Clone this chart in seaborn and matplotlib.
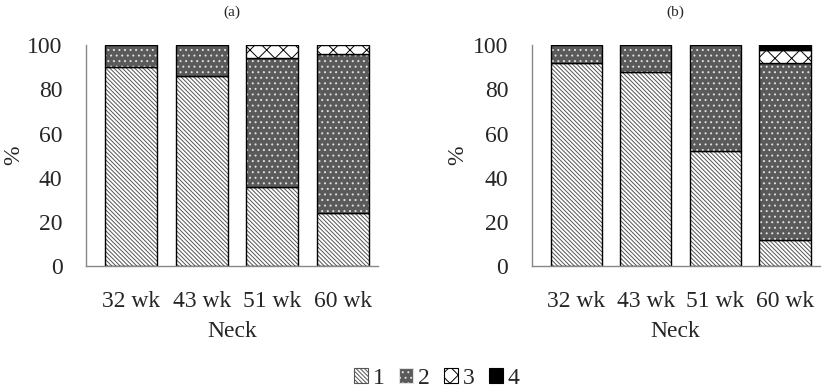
import matplotlib
matplotlib.use("Agg")
import matplotlib.pyplot as plt
import seaborn as sns
import numpy as np
import pandas as pd
from matplotlib.patches import Patch

sns.set_style("white")
plt.rcParams['font.family'] = ['Liberation Serif', 'DejaVu Serif']
plt.rcParams['hatch.linewidth'] = 0.7

weeks = ["32 wk", "43 wk", "51 wk", "60 wk"]
categories = ["1", "2", "3", "4"]
panel_a = {
    "1": [90, 86, 36, 24],
    "2": [10, 14, 58, 72],
    "3": [0, 0, 6, 4],
    "4": [0, 0, 0, 0],
}
panel_b = {
    "1": [92, 88, 52, 12],
    "2": [8, 12, 48, 80],
    "3": [0, 0, 0, 6],
    "4": [0, 0, 0, 2],
}
panel_titles = ["(a)", "(b)"]

styles = {
    "1": dict(face="white", hatch="\\" * 8, hc="#555555"),
    "2": dict(face="#5a5a5a", hatch="...", hc="#e0e0e0"),
    "3": dict(face="white", hatch="xx", hc="black"),
    "4": dict(face="black", hatch=None, hc="black"),
}

fig = plt.figure(figsize=(8.27, 3.92), dpi=100)
ax_a = fig.add_axes([0.104, 0.321, 0.353, 0.564])
ax_b = fig.add_axes([0.643, 0.321, 0.348, 0.564])

for ax, data, title, lx in zip([ax_a, ax_b], [panel_a, panel_b], panel_titles, [-0.21, -0.222]):
    bottom = np.zeros(len(weeks))
    for cat in categories:
        vals = np.array(data[cat], dtype=float)
        st = styles[cat]
        n_before = len(ax.patches)
        sns.barplot(x=weeks, y=vals, bottom=bottom, ax=ax, color=st["face"],
                    width=0.74, linewidth=0, saturation=1, errorbar=None)
        for p in ax.patches[n_before:]:
            p.set_facecolor(st["face"])
            p.set_edgecolor(st["hc"])
            p.set_linewidth(0)
            if st["hatch"]:
                p.set_hatch(st["hatch"])
        n_before = len(ax.patches)
        sns.barplot(x=weeks, y=vals, bottom=bottom, ax=ax, color="white",
                    width=0.74, linewidth=1.0, edgecolor="black", errorbar=None)
        for p in ax.patches[n_before:]:
            p.set_fill(False)
            p.set_edgecolor("black")
            p.set_linewidth(1.0)
            if p.get_height() == 0:
                p.set_visible(False)
        bottom = bottom + vals
    ax.set_ylim(0, 100)
    ax.set_xlim(-0.64, 3.5)
    ax.set_yticks([0, 20, 40, 60, 80, 100])
    ax.tick_params(axis='y', labelsize=17, length=0, pad=17)
    ax.tick_params(axis='x', labelsize=17, length=0, pad=18)
    ax.set_xlabel("Neck", fontsize=17, labelpad=6)
    ax.set_ylabel("%", fontsize=17)
    ax.yaxis.set_label_coords(lx, 0.5)
    ax.set_title(title, fontsize=11, pad=21)
    for s in ["top", "right"]:
        ax.spines[s].set_visible(False)
    ax.spines["left"].set_color("#888888")
    ax.spines["bottom"].set_color("#888888")
    ax.spines["left"].set_linewidth(1.0)
    ax.spines["bottom"].set_linewidth(1.0)

handles = []
for cat in categories:
    st = styles[cat]
    handles.append(Patch(facecolor=st["face"], edgecolor=st["hc"] if st["hatch"] else "black",
                         hatch=st["hatch"], linewidth=0.8, label=cat))
fig.legend(handles=handles, loc="center", bbox_to_anchor=(0.528, 0.035), ncol=4,
           frameon=False, fontsize=17, handlelength=0.6, handleheight=0.6,
           handletextpad=0.2, columnspacing=0.6)

fig.savefig("out.png", dpi=100)
